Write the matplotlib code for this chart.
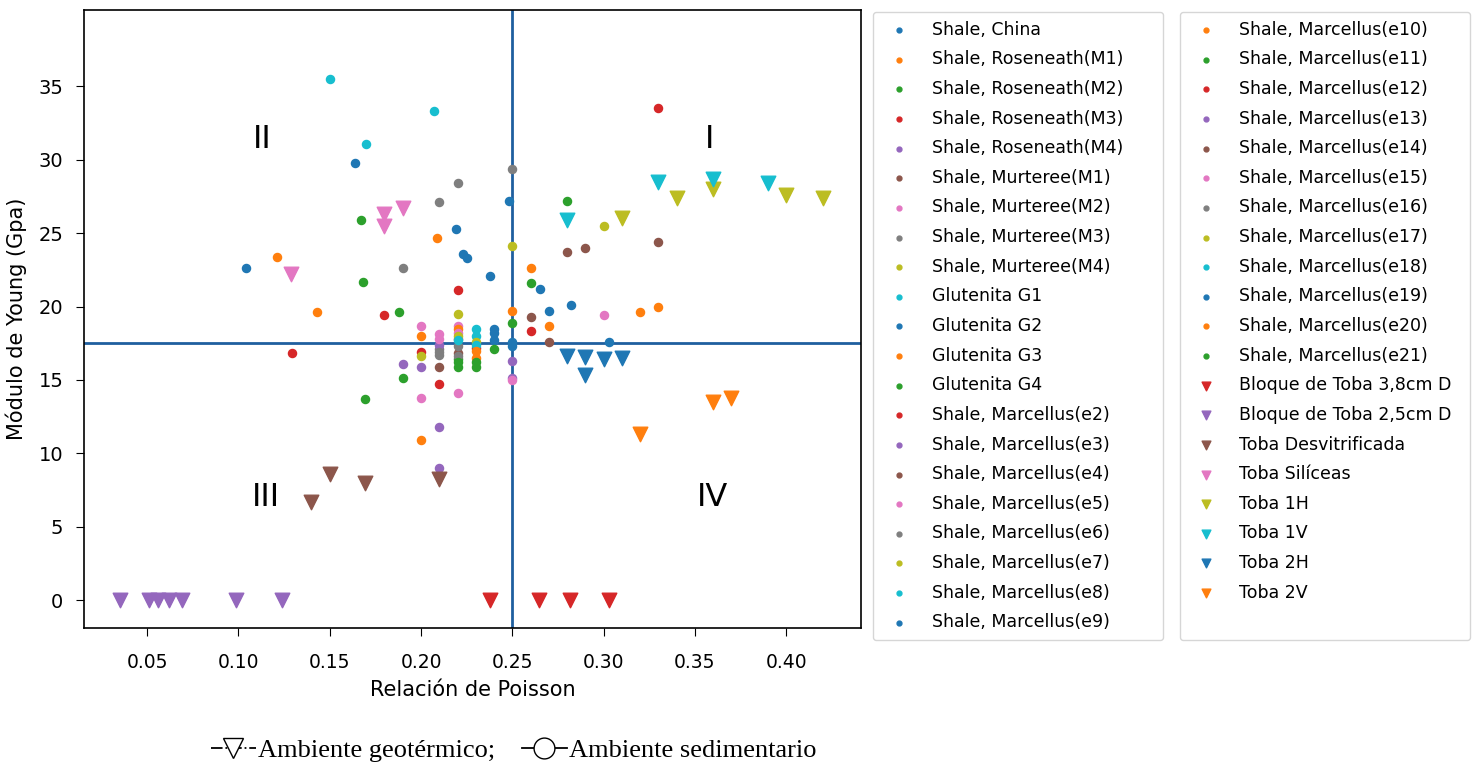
import matplotlib
matplotlib.use("Agg")
import matplotlib.pyplot as plt
from matplotlib.lines import Line2D

# ---------------- data ----------------
series_labels = [
    "Shale, China", "Shale, Roseneath(M1)", "Shale, Roseneath(M2)", "Shale, Roseneath(M3)",
    "Shale, Roseneath(M4)", "Shale, Murteree(M1)", "Shale, Murteree(M2)", "Shale, Murteree(M3)",
    "Shale, Murteree(M4)", "Glutenita G1", "Glutenita G2", "Glutenita G3", "Glutenita G4",
    "Shale, Marcellus(e2)", "Shale, Marcellus(e3)", "Shale, Marcellus(e4)", "Shale, Marcellus(e5)",
    "Shale, Marcellus(e6)", "Shale, Marcellus(e7)", "Shale, Marcellus(e8)", "Shale, Marcellus(e9)",
    "Shale, Marcellus(e10)", "Shale, Marcellus(e11)", "Shale, Marcellus(e12)", "Shale, Marcellus(e13)",
    "Shale, Marcellus(e14)", "Shale, Marcellus(e15)", "Shale, Marcellus(e16)", "Shale, Marcellus(e17)",
    "Shale, Marcellus(e18)", "Shale, Marcellus(e19)", "Shale, Marcellus(e20)", "Shale, Marcellus(e21)",
    "Bloque de Toba 3,8cm D", "Bloque de Toba 2,5cm D", "Toba Desvitrificada", "Toba Silíceas",
    "Toba 1H", "Toba 1V", "Toba 2H", "Toba 2V",
]
n_sedimentary = 33  # first 33 series: circles (sedimentario); rest: triangles (geotérmico)

poisson = [
    [0.104, 0.164, 0.219, 0.223, 0.225, 0.238],
    [0.121, 0.143, 0.209],
    [0.167, 0.168, 0.188],
    [0.1295, 0.180, 0.220],
    [0.190, 0.200],
    [0.280, 0.290],
    [0.200, 0.220],
    [0.190, 0.2096, 0.220],
    [0.220, 0.300],
    [0.150, 0.207, 0.170],
    [0.248, 0.265, 0.270, 0.282],
    [0.260, 0.320, 0.330, 0.250],
    [0.280, 0.260, 0.190, 0.1695],
    [0.330, 0.260, 0.200, 0.210],
    [0.210, 0.210],
    [0.330, 0.260, 0.270],
    [0.300, 0.200, 0.210],
    [0.250, 0.210, 0.210],
    [0.250, 0.200],
    [0.230, 0.230],
    [0.240, 0.240, 0.240],
    [0.270, 0.200, 0.220],
    [0.250, 0.240, 0.220],
    [0.220, 0.230],
    [0.250, 0.250, 0.210],
    [0.210, 0.220],
    [0.220, 0.220, 0.250, 0.210],
    [0.220, 0.210, 0.220],
    [0.220, 0.230],
    [0.230, 0.220],
    [0.250, 0.250, 0.303],
    [0.230, 0.230, 0.200],
    [0.220, 0.230, 0.230, 0.220],
    [0.238, 0.2646, 0.2816, 0.303],
    [0.035, 0.0508, 0.056, 0.0618, 0.069, 0.0988, 0.1237],
    [0.140, 0.150, 0.1695, 0.2096],
    [0.129, 0.180, 0.180, 0.190],
    [0.310, 0.340, 0.360, 0.400, 0.420],
    [0.280, 0.330, 0.360, 0.390],
    [0.280, 0.290, 0.290, 0.300, 0.310],
    [0.320, 0.360, 0.370],
]

young = [
    [22.6, 29.8, 25.3, 23.6, 23.3, 22.1],
    [23.4, 19.6, 24.7],
    [25.9, 21.7, 19.6],
    [16.8, 19.4, 21.1],
    [16.1, 15.9],
    [23.7, 24.0],
    [18.7, 18.7],
    [22.6, 27.1, 28.4],
    [19.5, 25.5],
    [35.5, 33.3, 31.1],
    [27.2, 21.2, 19.7, 20.1],
    [22.6, 19.6, 20.0, 19.7],
    [27.2, 21.6, 15.1, 13.7],
    [33.5, 18.3, 16.9, 14.7],
    [11.8, 9.0],
    [24.4, 19.3, 17.6],
    [19.4, 13.8, 18.1],
    [29.4, 17.1, 16.7],
    [24.1, 16.6],
    [18.5, 18.0],
    [18.5, 18.2, 17.7],
    [18.7, 18.0, 18.5],
    [18.9, 17.1, 16.4],
    [17.8, 17.2],
    [16.3, 15.1, 17.4],
    [15.9, 16.8],
    [14.1, 18.2, 15.0, 17.8],
    [17.3, 16.9, 16.6],
    [18.0, 17.6],
    [17.4, 17.7],
    [17.6, 17.3, 17.6],
    [16.5, 17.0, 10.9],
    [15.9, 15.9, 16.2, 16.2],
    [0.0, 0.0, 0.0, 0.0],
    [0.0, 0.0, 0.0, 0.0, 0.0, 0.0, 0.0],
    [6.7, 8.6, 8.0, 8.25],
    [22.2, 26.3, 25.5, 26.7],
    [26.0, 27.4, 28.0, 27.6, 27.4],
    [25.9, 28.5, 28.7, 28.4],
    [16.6, 16.55, 15.35, 16.4, 16.5],
    [11.3, 13.5, 13.8],
]

poisson_split = 0.25
young_split = 17.5
quadrant_labels = ["I", "II", "III", "IV"]
quadrant_pos = [(0.358, 31.4), (0.113, 31.4), (0.115, 7.0), (0.3595, 7.0)]

# ---------------- plot ----------------
plt.rcParams['font.family'] = ['DejaVu Sans']
fig = plt.figure(figsize=(14.76, 7.69), dpi=100)
ax = fig.add_axes([0.057, 0.1834, 0.526, 0.8036])

cycle = plt.rcParams['axes.prop_cycle'].by_key()['color']
handles = []
for i, (lab, xs, ys) in enumerate(zip(series_labels, poisson, young)):
    # one colour of the cycle (gray) is unused between "Toba Silíceas" and "Toba 1H"
    cidx = i if i < 37 else i + 1
    col = cycle[cidx % len(cycle)]
    if i < n_sedimentary:
        h = ax.scatter(xs, ys, s=34, color=col, label=lab, zorder=3)
    else:
        h = ax.scatter(xs, ys, s=110, marker='v', color=col, label=lab, zorder=3)
    handles.append(h)

ax.axvline(poisson_split, color='#1f5f9f', lw=2, zorder=2)
ax.axhline(young_split, color='#1f5f9f', lw=2, zorder=2)

for t, (px, py) in zip(quadrant_labels, quadrant_pos):
    ax.text(px, py, t, fontsize=23, ha='center', va='center')

ax.set_xlim(0.0155, 0.4407)
ax.set_ylim(-1.9, 40.2)
ax.set_xticks([0.05, 0.10, 0.15, 0.20, 0.25, 0.30, 0.35, 0.40])
ax.set_xticklabels(["0.05", "0.10", "0.15", "0.20", "0.25", "0.30", "0.35", "0.40"])
ax.set_yticks([0, 5, 10, 15, 20, 25, 30, 35])
ax.tick_params(axis='x', labelsize=13.5, pad=12, length=6)
ax.tick_params(axis='y', labelsize=14, pad=9, length=6)
ax.set_xlabel("Relación de Poisson", fontsize=15, labelpad=6)
ax.set_ylabel("Módulo de Young (Gpa)", fontsize=15, labelpad=8)
for sp in ax.spines.values():
    sp.set_linewidth(1.2)

blank = Line2D([], [], linestyle='none', marker=None)
leg_kw = dict(fontsize=12.5, labelspacing=0.67, markerscale=0.6, handletextpad=0.9,
              borderpad=0.5, borderaxespad=0, frameon=True, fancybox=True,
              edgecolor='#cccccc', handlelength=2.0, mode='expand')
fig.legend(handles[:21], series_labels[:21], loc='upper left',
           bbox_to_anchor=(873 / 1476, 1 - 12 / 769, 290 / 1476, 0), **leg_kw)
fig.legend(handles[21:] + [blank], series_labels[21:] + [" "], loc='upper left',
           bbox_to_anchor=(1180 / 1476, 1 - 12 / 769, 290 / 1476, 0), **leg_kw)

# bottom key (geothermal vs sedimentary)
key_handles = [
    Line2D([], [], color='black', linestyle='-.', marker='v', markerfacecolor='white',
           markersize=15, lw=1.3),
    Line2D([], [], color='black', linestyle='-', marker='o', markerfacecolor='white',
           markersize=15, lw=1.3),
]
fig.legend(key_handles, ["Ambiente geotérmico;", "Ambiente sedimentario"],
           loc='center', bbox_to_anchor=(0.348, 0.024), ncol=2, frameon=False,
           prop={'family': 'Liberation Serif', 'size': 19}, handlelength=1.7,
           handletextpad=0.1, columnspacing=1.0)

fig.savefig("out.png", dpi=100)
